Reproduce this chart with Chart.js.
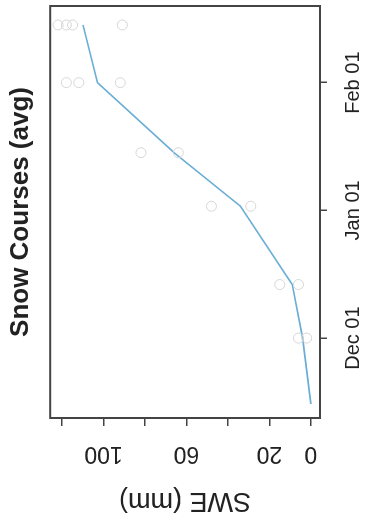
<!DOCTYPE html>
<html>
<head>
<meta charset="utf-8">
<script src="https://cdn.jsdelivr.net/npm/chart.js@4"></script>
<style>
  html, body { margin: 0; padding: 0; background: #fff; overflow: hidden; }
  #page { position: relative; width: 365px; height: 523px; }
  /* the reference is the plot turned a quarter turn to the left */
  #wrap { position: absolute; left: 0; top: 0; width: 523px; height: 365px;
          transform-origin: 0 0; transform: translateY(523px) rotate(-90deg); }
</style>
</head>
<body>
<div id="page">
  <div id="wrap"><canvas id="chart" width="523" height="365"></canvas></div>
</div>
<script>
// average SWE of the snow courses, days counted from Dec 01
const sampleDates = ['Nov 15', 'Dec 01', 'Dec 14', 'Jan 02', 'Jan 15', 'Feb 01', 'Feb 15'];
const sampleDays = [-16, 0, 13, 32, 45, 62, 76];
const avgSwe = [0, 4, 9, 34, 66, 103, 110];

// single courses (faint circles)
const obsDays = [0, 0, 13, 13, 32, 32, 45, 45, 62, 62, 62, 76, 76, 76, 76];
const obsSwe = [6, 2, 15, 6, 48, 29, 82, 64, 118, 112, 92, 122, 118, 115, 91];

const xTickDays = [0, 31, 62];
const xTickLabels = ['Dec 01', 'Jan 01', 'Feb 01'];
const yTicks = [0, 20, 40, 60, 80, 100, 120];
const yLabels = [0, 20, 60, 100];

const ctx = document.getElementById('chart');
const font = 'Liberation Sans, Arial, sans-serif';

const boxPlugin = {
    id: 'box',
    afterDraw(chart) {
        const a = chart.chartArea;
        const c = chart.ctx;
        c.save();
        c.strokeStyle = '#444';
        c.lineWidth = 2;
        c.strokeRect(a.left, a.top, a.right - a.left, a.bottom - a.top);
        c.restore();
    }
};

new Chart(ctx, {
    type: 'line',
    data: {
        datasets: [{
            label: 'Courses',
            type: 'scatter',
            data: obsDays.map((d, i) => ({ x: d, y: obsSwe[i] })),
            showLine: false,
            pointStyle: 'circle',
            pointRadius: 5,
            borderColor: '#d6d6d6',
            backgroundColor: 'rgba(0,0,0,0)',
            borderWidth: 1
        }, {
            label: 'Snow Courses (avg)',
            data: sampleDays.map((d, i) => ({ x: d, y: avgSwe[i] })),
            borderColor: '#6aaed6',
            borderWidth: 1.6,
            pointRadius: 0,
            tension: 0
        }]
    },
    options: {
        responsive: false,
        animation: false,
        devicePixelRatio: 1,
        layout: { padding: { top: 0, right: 5, left: 0, bottom: 0 } },
        plugins: {
            legend: { display: false },
            tooltip: { enabled: false },
            title: {
                display: true,
                fullSize: false,
                text: 'Snow Courses (avg)',
                color: '#222',
                font: { family: font, size: 26, weight: 'bold' },
                padding: { top: 5, bottom: 14 }
            }
        },
        scales: {
            x: {
                type: 'linear',
                min: -19.4,
                max: 80.6,
                afterBuildTicks: (s) => { s.ticks = xTickDays.map(v => ({ value: v })); },
                afterFit: (s) => { s.height = 45; },
                border: { display: false },
                grid: { drawOnChartArea: false, tickLength: 7, color: '#444', lineWidth: 1.5 },
                ticks: {
                    autoSkip: false,
                    maxRotation: 0,
                    padding: 14,
                    color: '#222',
                    font: { family: font, size: 20 },
                    callback: (v) => xTickLabels[xTickDays.indexOf(v)] || ''
                }
            },
            y: {
                min: -4.4,
                max: 125.8,
                afterBuildTicks: (s) => { s.ticks = yTicks.map(v => ({ value: v })); },
                afterFit: (s) => { s.width = 105; },
                border: { display: false },
                grid: { drawOnChartArea: false, tickLength: 8, color: '#444', lineWidth: 1.5 },
                title: {
                    display: true,
                    text: 'SWE (mm)',
                    color: '#222',
                    font: { family: font, size: 27 },
                    padding: { top: 6, bottom: 0 }
                },
                ticks: {
                    autoSkip: false,
                    minRotation: 90,
                    maxRotation: 90,
                    crossAlign: 'center',
                    padding: 8,
                    color: '#222',
                    font: { family: font, size: 23 },
                    callback: (v) => yLabels.includes(v) ? String(v) : ''
                }
            }
        }
    },
    plugins: [boxPlugin]
});
</script>
</body>
</html>
